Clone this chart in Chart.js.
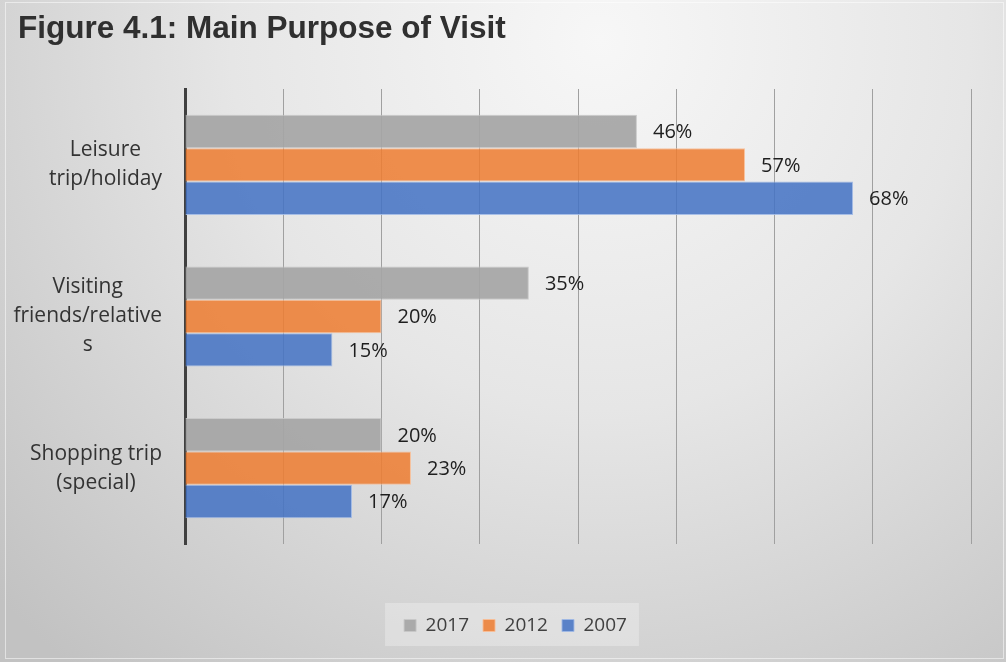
<!DOCTYPE html>
<html>
<head>
<meta charset="utf-8">
<title>Main Purpose of Visit</title>
<script src="https://cdn.jsdelivr.net/npm/chart.js@4"></script>
<style>
  html, body { margin: 0; padding: 0; background: #d0d0d0; }
  #wrap { width: 1006px; height: 662px; position: relative; }
</style>
</head>
<body>
<div id="wrap"><canvas id="purposeChart" width="1006" height="662"></canvas></div>
<script>
// survey shares (%) per purpose, one array per survey year
const categories = [
  ["Leisure", "trip/holiday"],
  ["Visiting", "friends/relative", "s"],
  ["Shopping trip", "(special)"]
];
const years = ["2017", "2012", "2007"];
const share2017 = [46, 35, 20];
const share2012 = [57, 20, 23];
const share2007 = [68, 15, 17];
const xTicks = [0, 10, 20, 30, 40, 50, 60, 70, 80];

const titleText = "Figure 4.1: Main Purpose of Visit";
const labelFont = '"Open Sans", "Noto Sans", sans-serif';

// gradient backdrop, frame, title and the box behind the legend
const backdrop = {
  id: "backdrop",
  beforeDraw(chart) {
    const { ctx, width, height } = chart;
    ctx.save();
    const g = ctx.createRadialGradient(600, 40, 0, 600, 40, 820);
    g.addColorStop(0, "#f7f7f7");
    g.addColorStop(0.45, "#e6e6e6");
    g.addColorStop(1, "#c2c2c2");
    ctx.fillStyle = g;
    ctx.fillRect(0, 0, width, height);

    ctx.strokeStyle = "rgba(255,255,255,0.5)";
    ctx.lineWidth = 1;
    ctx.strokeRect(5.5, 2.5, width - 8, height - 6);

    ctx.fillStyle = "#303030";
    ctx.font = 'bold 31.5px "Liberation Sans", Arial, sans-serif';
    ctx.textBaseline = "alphabetic";
    ctx.textAlign = "left";
    ctx.fillText(titleText, 18, 38);

    const boxes = chart.legend && chart.legend.legendHitBoxes;
    if (boxes && boxes.length) {
      const left = Math.min(...boxes.map(b => b.left)) - 19;
      const right = Math.max(...boxes.map(b => b.left + b.width)) + 12;
      const top = boxes[0].top - 13;
      ctx.fillStyle = "rgba(255,255,255,0.28)";
      ctx.fillRect(left, top, right - left, 43);
    }
    ctx.restore();
  }
};

// category names: each block centred on its widest line, blocks right-aligned to the axis
const categoryLabels = {
  id: "categoryLabels",
  afterDraw(chart) {
    const { ctx } = chart;
    const yScale = chart.scales.y;
    const rightEdge = 162;
    const lineGap = 29;
    ctx.save();
    ctx.font = "21px " + labelFont;
    ctx.fillStyle = "#333333";
    ctx.textAlign = "center";
    ctx.textBaseline = "middle";
    categories.forEach((lines, i) => {
      const widest = Math.max(...lines.map(l => ctx.measureText(l).width));
      const cx = rightEdge - widest / 2;
      const cy = yScale.getPixelForValue(i);
      const startY = cy - (lines.length - 1) * lineGap / 2;
      lines.forEach((line, k) => ctx.fillText(line, cx, startY + k * lineGap));
    });
    ctx.restore();
  }
};

// value labels just past the end of each bar
const valueLabels = {
  id: "valueLabels",
  afterDatasetsDraw(chart) {
    const { ctx } = chart;
    ctx.save();
    ctx.font = "20px " + labelFont;
    ctx.fillStyle = "#1e1e1e";
    ctx.textAlign = "left";
    ctx.textBaseline = "middle";
    chart.data.datasets.forEach((ds, di) => {
      chart.getDatasetMeta(di).data.forEach((bar, i) => {
        ctx.fillText(ds.data[i] + "%", bar.x + 16, bar.y + 1);
      });
    });
    ctx.restore();
  }
};

new Chart(document.getElementById("purposeChart"), {
  type: "bar",
  data: {
    labels: categories,
    datasets: [
      {
        label: years[0],
        data: share2017,
        backgroundColor: "rgba(165,165,165,0.92)",
        borderColor: "rgba(200,200,200,0.9)",
        borderWidth: 1
      },
      {
        label: years[1],
        data: share2012,
        backgroundColor: "rgba(237,125,49,0.86)",
        borderColor: "rgba(248,190,150,0.9)",
        borderWidth: 1
      },
      {
        label: years[2],
        data: share2007,
        backgroundColor: "rgba(68,114,196,0.86)",
        borderColor: "rgba(160,185,230,0.9)",
        borderWidth: 1
      }
    ]
  },
  options: {
    indexAxis: "y",
    responsive: false,
    animation: false,
    layout: { padding: { left: 60, right: 35, top: 89, bottom: 17 } },
    datasets: {
      bar: { categoryPercentage: 0.66, barPercentage: 1 }
    },
    scales: {
      x: {
        min: xTicks[0],
        max: xTicks[xTicks.length - 1],
        afterBuildTicks(scale) {
          scale.ticks = xTicks.map(v => ({ value: v }));
        },
        afterFit(scale) { scale.height = 58; },
        ticks: { display: false },
        grid: { color: "#a0a0a0", lineWidth: 1, drawTicks: false },
        border: { display: false }
      },
      y: {
        z: 1,
        afterFit(scale) { scale.width = 125; },
        ticks: { display: false },
        grid: { display: false, drawTicks: false },
        border: { display: true, color: "#404040", width: 3 }
      }
    },
    plugins: {
      legend: {
        position: "bottom",
        labels: {
          boxWidth: 12,
          boxHeight: 12,
          padding: 14,
          color: "#404040",
          font: { family: labelFont, size: 19 }
        }
      },
      tooltip: { enabled: false }
    }
  },
  plugins: [backdrop, categoryLabels, valueLabels]
});
</script>
</body>
</html>
